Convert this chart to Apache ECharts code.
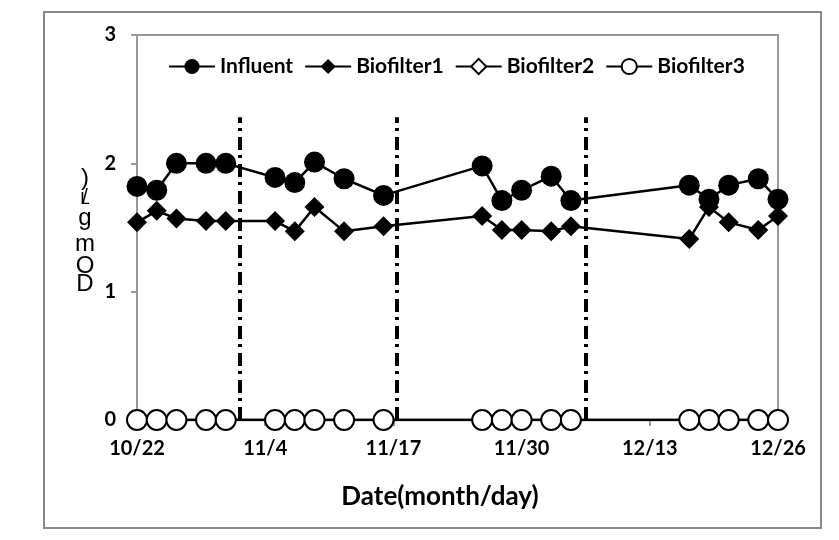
<!DOCTYPE html>
<html>
<head>
<meta charset="utf-8">
<script src="https://cdn.jsdelivr.net/npm/echarts@6/dist/echarts.min.js"></script>
<style>
html,body{margin:0;padding:0;background:#fff;}
#c{width:839px;height:540px;}
</style>
</head>
<body>
<div id="c"></div>
<script>
const dates = ["10/22","10/24","10/26","10/29","10/31","11/5","11/7","11/9","11/12","11/16","11/26","11/28","11/30","12/3","12/5","12/17","12/19","12/21","12/24","12/26"];
const influent   = [1.82,1.79,2.00,2.00,2.00,1.89,1.85,2.01,1.88,1.75,1.98,1.71,1.79,1.90,1.71,1.83,1.72,1.83,1.88,1.72];
const biofilter1 = [1.54,1.63,1.57,1.55,1.55,1.55,1.47,1.66,1.47,1.51,1.59,1.48,1.48,1.47,1.51,1.41,1.66,1.54,1.48,1.59];
const biofilter2 = [0,0,0,0,0,0,0,0,0,0,0,0,0,0,0,0,0,0,0,0];
const biofilter3 = [0,0,0,0,0,0,0,0,0,0,0,0,0,0,0,0,0,0,0,0];
const xTickLabels = ["10/22","11/4","11/17","11/30","12/13","12/26"];
const dividerDays = [10.4, 26.3, 45.5];   // phase dividers (days after 10/22)
const dividerTop = 2.36;

function dayOf(s){
  const p = s.split('/').map(Number);
  return Math.round((Date.UTC(2000,p[0]-1,p[1]) - Date.UTC(2000,9,22)) / 86400000);
}
const xs = dates.map(dayOf);
const tickDays = xTickLabels.map(dayOf);
const pairs = arr => arr.map((v,i)=>[xs[i], v]);

const FONT = 'Lato';
const YF = '24px "Liberation Sans"';
const ych = (t,y,font)=>({type:'text',style:{text:t,x:85,y:y,align:'center',verticalAlign:'middle',font:font||YF,fill:'#000'},silent:true});
const chart = echarts.init(document.getElementById('c'));
chart.setOption({
  animation:false,
  backgroundColor:'#fff',
  grid:{left:137,right:61,top:35,bottom:120,show:true,borderColor:'#999',borderWidth:2,backgroundColor:'transparent'},
  legend:{
    left:163, top:51, padding:5, itemWidth:46, itemHeight:19, itemGap:11,
    textStyle:{fontFamily:FONT,fontWeight:'bold',fontSize:21,color:'#000'},
    data:['Influent','Biofilter1','Biofilter2','Biofilter3']
  },
  xAxis:{
    type:'value', min:0, max:65, interval:13,
    axisLine:{show:true,lineStyle:{color:'#999',width:2}},
    axisTick:{show:true,length:6,lineStyle:{color:'#999',width:2}},
    splitLine:{show:false},
    axisLabel:{margin:19,fontFamily:FONT,fontWeight:'bold',fontSize:20,color:'#000',
      formatter:v=>{const i=tickDays.indexOf(v);return i>=0?xTickLabels[i]:'';}}
  },
  yAxis:{
    type:'value', min:0, max:3, interval:1,
    axisLine:{show:true,lineStyle:{color:'#999',width:2}},
    axisTick:{show:true,length:6,lineStyle:{color:'#999',width:2}},
    splitLine:{show:false},
    axisLabel:{margin:21,fontFamily:FONT,fontWeight:'bold',fontSize:20,color:'#000'}
  },
  graphic:[
    {type:'rect',shape:{x:44,y:12,width:777,height:516},style:{fill:'none',stroke:'#888',lineWidth:2},silent:true},
    {type:'text',style:{text:'Date(month/day)',x:440,y:497,align:'center',verticalAlign:'middle',
      font:'bold 26px Lato',fill:'#000'},silent:true},
    ych(')',178),
    ych('/',197,'20px "Liberation Sans"'),
    ych('L',199,'17px "Liberation Sans"'),
    ych('g',218),
    ych('m',244),
    ych('O',266),
    ych('D',284)
  ],
  series:[
    {name:'Influent',type:'line',data:pairs(influent),symbol:'circle',symbolSize:21,z:5,
      itemStyle:{color:'#000'},lineStyle:{color:'#000',width:2.5},
      markLine:{silent:true,symbol:'none',label:{show:false},
        lineStyle:{color:'#000',width:4,type:[13,6,3,5]},
        data:dividerDays.map(d=>[{coord:[d,0]},{coord:[d,dividerTop]}])}},
    {name:'Biofilter1',type:'line',data:pairs(biofilter1),symbol:'diamond',symbolSize:20,z:4,
      itemStyle:{color:'#000'},lineStyle:{color:'#000',width:2.5}},
    {name:'Biofilter2',type:'line',data:pairs(biofilter2),symbol:'diamond',symbolSize:13,z:2,
      itemStyle:{color:'#fff',borderColor:'#000',borderWidth:2},lineStyle:{color:'#000',width:2.5}},
    {name:'Biofilter3',type:'line',data:pairs(biofilter3),symbol:'circle',symbolSize:20,z:3,
      itemStyle:{color:'#fff',borderColor:'#000',borderWidth:2},lineStyle:{color:'#000',width:2.5}}
  ]
});
</script>
</body>
</html>
